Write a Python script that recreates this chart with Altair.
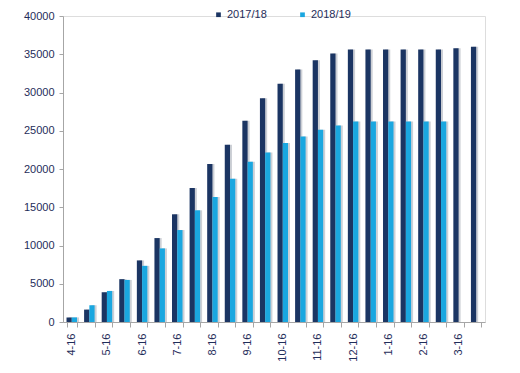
import altair as alt
import pandas as pd

periods = ["4-16a", "4-16b", "5-16a", "5-16b", "6-16a", "6-16b", "7-16a", "7-16b",
           "8-16a", "8-16b", "9-16a", "9-16b", "10-16a", "10-16b", "11-16a", "11-16b",
           "12-16a", "12-16b", "1-16a", "1-16b", "2-16a", "2-16b", "3-16a", "3-16b"]
series_names = ["2017/18", "2018/19"]
values_1718 = [600, 1620, 3890, 5600, 8050, 10970, 14080, 17520, 20640, 23170, 26320, 29250,
               31130, 33010, 34230, 35110, 35630, 35630, 35630, 35630, 35630, 35630, 35800, 35990]
values_1819 = [600, 2190, 4060, 5500, 7340, 9620, 12020, 14600, 16340, 18710, 20940, 22160,
               23400, 24260, 25140, 25670, 26200, 26200, 26200, 26200, 26200, 26200]
colors = ["#1B3563", "#1AA7E0"]

rows = []
for p, v in zip(periods, values_1718):
    rows.append({"period": p, "series": series_names[0], "value": v})
for p, v in zip(periods, values_1819):
    rows.append({"period": p, "series": series_names[1], "value": v})
df = pd.DataFrame(rows)

navy = "#1F2D5A"
font = "Liberation Sans"

x_enc = alt.X("period:N", sort=periods, title=None,
              scale=alt.Scale(paddingInner=0.4, paddingOuter=0.2),
              axis=alt.Axis(labelAngle=-90, tickBand="extent", tickSize=5,
                            labelPadding=6, domainColor="#A6A6A6", tickColor="#A6A6A6",
                            labelColor=navy, labelFont=font, labelFontSize=11,
                            labelBaseline="middle", labelAlign="right",
                            labelExpr="slice(datum.label,-1)=='b' ? '' : slice(datum.label,0,-1)"))
y_enc = alt.Y("value:Q", title=None,
              scale=alt.Scale(domain=[0, 40000], nice=False),
              axis=alt.Axis(values=list(range(0, 40001, 5000)), grid=False, tickSize=4,
                            format="d",
                            labelPadding=5, domainColor="#A6A6A6", tickColor="#A6A6A6",
                            labelColor=navy, labelFont=font, labelFontSize=11,
                            labelFlush=False))

shadow = alt.Chart(df).mark_bar(color="#CDD0D6").encode(
    x=x_enc, y=y_enc,
    xOffset=alt.XOffset("series:N", sort=series_names,
                        scale=alt.Scale(range=[2, 12.5])))

bars = alt.Chart(df).mark_bar().encode(
    x=x_enc, y=y_enc,
    xOffset=alt.XOffset("series:N", sort=series_names,
                        scale=alt.Scale(range=[0, 10.5])),
    color=alt.Color("series:N", sort=series_names,
                    scale=alt.Scale(domain=series_names, range=colors),
                    legend=alt.Legend(title=None, orient="none", direction="horizontal",
                                      legendX=150, legendY=-7, symbolType="square",
                                      symbolSize=22, columnPadding=30, labelFont=font,
                                      labelFontSize=11, labelColor=navy, labelOffset=3)))

chart = alt.layer(shadow, bars).resolve_scale(xOffset="independent").properties(
    width=422, height=306,
    autosize=alt.AutoSizeParams(type="none"),
    padding={"left": 55, "top": 8, "right": 10, "bottom": 40},
).configure_view(stroke=None).configure(background="white")

chart.save("out.html", embed_options={"renderer": "svg", "actions": False})
